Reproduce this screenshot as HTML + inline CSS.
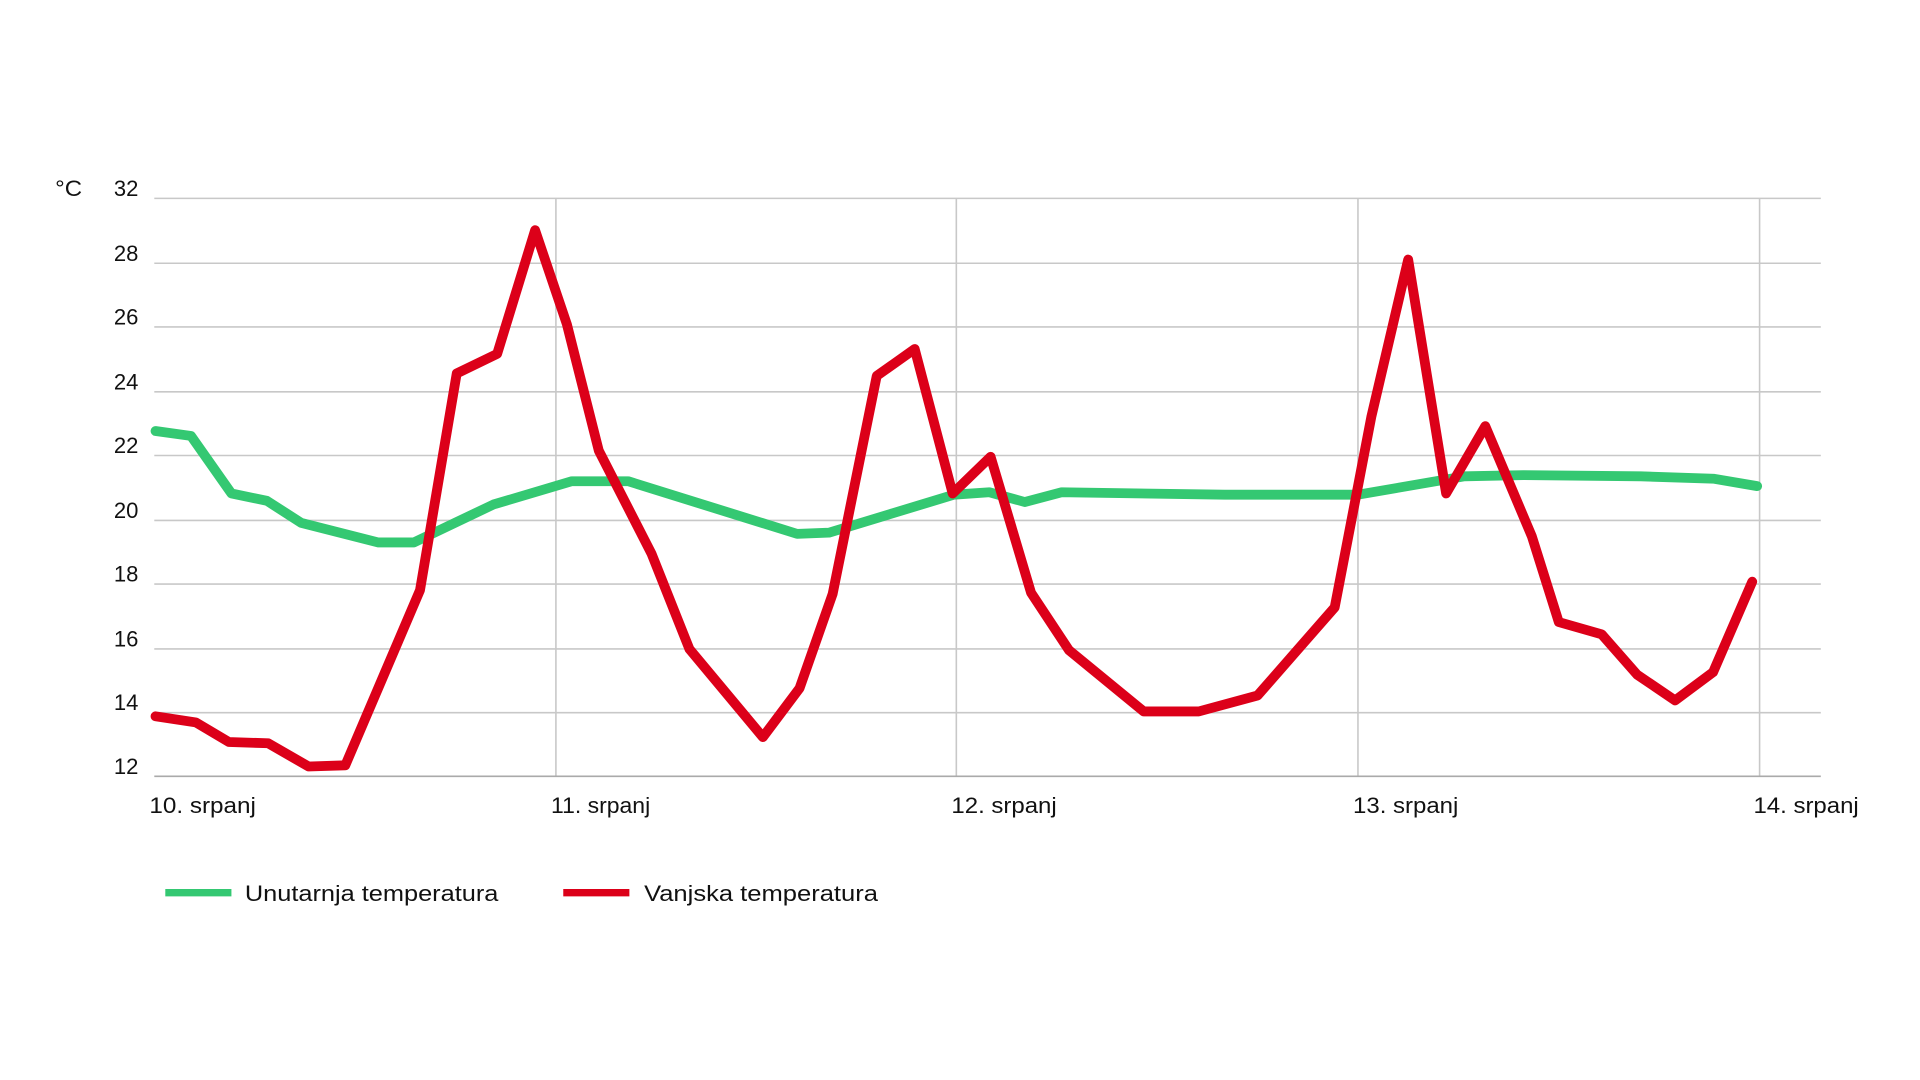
<!DOCTYPE html>
<html><head><meta charset="utf-8"><style>
html,body{margin:0;padding:0;background:#fff;}
svg{display:block;}
text{font-family:"Liberation Sans",sans-serif;fill:#111;}
</style></head><body>
<svg width="1920" height="1080" viewBox="0 0 1568 882" xmlns="http://www.w3.org/2000/svg">
<g stroke="#c8c8c8" stroke-width="1.3">
<line x1="126" y1="162" x2="1487" y2="162"/>
<line x1="126" y1="215" x2="1487" y2="215"/>
<line x1="126" y1="267" x2="1487" y2="267"/>
<line x1="126" y1="320" x2="1487" y2="320"/>
<line x1="126" y1="372" x2="1487" y2="372"/>
<line x1="126" y1="425" x2="1487" y2="425"/>
<line x1="126" y1="477" x2="1487" y2="477"/>
<line x1="126" y1="530" x2="1487" y2="530"/>
<line x1="126" y1="582" x2="1487" y2="582"/>
<line x1="454" y1="162" x2="454" y2="634"/>
<line x1="781" y1="162" x2="781" y2="634"/>
<line x1="1109" y1="162" x2="1109" y2="634"/>
<line x1="1437" y1="162" x2="1437" y2="634"/>
</g>
<line x1="126" y1="634" x2="1487" y2="634" stroke="#aaa" stroke-width="1.3"/>
<g font-size="18" text-anchor="end">
<text x="113" y="160">32</text>
<text x="113" y="213">28</text>
<text x="113" y="265">26</text>
<text x="113" y="318">24</text>
<text x="113" y="370">22</text>
<text x="113" y="423">20</text>
<text x="113" y="475">18</text>
<text x="113" y="528">16</text>
<text x="113" y="580">14</text>
<text x="113" y="632">12</text>
</g>
<text x="45" y="160" font-size="18" textLength="22" lengthAdjust="spacingAndGlyphs">°C</text>
<g font-size="18">
<text x="122" y="664" textLength="87" lengthAdjust="spacingAndGlyphs">10. srpanj</text>
<text x="450" y="664" textLength="81" lengthAdjust="spacingAndGlyphs">11. srpanj</text>
<text x="777" y="664" textLength="86" lengthAdjust="spacingAndGlyphs">12. srpanj</text>
<text x="1105" y="664" textLength="86" lengthAdjust="spacingAndGlyphs">13. srpanj</text>
<text x="1432" y="664" textLength="86" lengthAdjust="spacingAndGlyphs">14. srpanj</text>
</g>
<polyline fill="none" stroke="#34c872" stroke-width="8" stroke-linejoin="round" stroke-linecap="round"
points="127,352 156,356 189,403 218,409 246,427 309,443 338,443 403,412 467,393 513,393 651,436 677,435 779,404 808,402 837,410 867,402 1000,404 1109,404 1196,389 1244,388 1340,389 1400,391 1435,397"/>
<polyline fill="none" stroke="#dc0019" stroke-width="8" stroke-linejoin="round" stroke-linecap="round"
points="127,585 160,590 187,606 219,607 252,626 282,625 343,482 373,305 406,289 437,188 463,265 489,368 532,452 563,530 623,602 653,562 680,485 716,307 747,285 778,403 809,373 842,484 873,531 934,581 979,581 1027,568 1090,496 1120,340 1150,212 1181,403 1213,348 1251,438 1273,508 1308,518 1337,551 1368,572 1399,549 1431,475"/>
<line x1="135" y1="729" x2="189" y2="729" stroke="#34c872" stroke-width="6"/>
<text x="200" y="736" font-size="18" textLength="207" lengthAdjust="spacingAndGlyphs">Unutarnja temperatura</text>
<line x1="460" y1="729" x2="514" y2="729" stroke="#dc0019" stroke-width="6"/>
<text x="526" y="736" font-size="18" textLength="191" lengthAdjust="spacingAndGlyphs">Vanjska temperatura</text>
</svg>
</body></html>
